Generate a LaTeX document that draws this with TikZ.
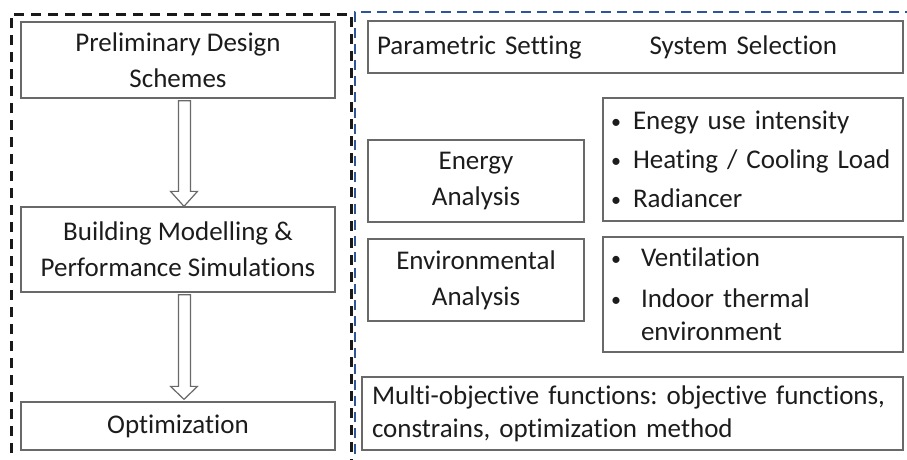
\documentclass[tikz,border=0pt]{standalone}
\usepackage{fontspec}
\setmainfont[Ligatures=NoCommon]{Carlito}
\usetikzlibrary{calc}
\definecolor{boxgray}{RGB}{105,105,105}
\definecolor{txt}{RGB}{28,28,28}
\definecolor{dashblue}{RGB}{47,85,151}
\definecolor{dashblack}{RGB}{25,25,25}
\tikzset{
  box/.style={draw=boxgray, line width=1.3pt, rectangle, inner sep=0pt, text=txt, align=center,
    font=\fontsize{27}{36}\selectfont},
  blackframe/.style={draw=dashblack, line width=3pt, dash pattern=on 10pt off 7pt},
  blueframe/.style={draw=dashblue, line width=2.4pt, dash pattern=on 10pt off 6pt},
  hollowarrow/.style={draw=boxgray, line width=1.2pt, fill=white, line join=miter},
}
\newcommand{\bul}[1]{\makebox[#1][l]{\hspace{8pt}\raisebox{1pt}{\fontsize{20}{20}\selectfont\textbullet}}}
\frenchspacing
\begin{document}
\begin{tikzpicture}[x=1pt,y=-1pt]
\useasboundingbox (0,0) rectangle (907,459);
% frames
\draw[blackframe] (11,470) -- (11,14) -- (351,14) -- (351,470);
\draw[blueframe] (355,470) -- (355,12) -- (920,12);
% left column
\node[box, minimum width=314pt, minimum height=76pt] (pds) at (178,60) {Preliminary Design\\Schemes};
\node[box, minimum width=314pt, minimum height=85pt] (bmps) at (178,249.5) {Building Modelling \&\\Performance Simulations};
\node[box, minimum width=314pt, minimum height=48pt] (opt) at (178,426) {Optimization};
% arrows
\draw[hollowarrow] ($(pds.south)+(0.5,2)$) -- ($(bmps.north)+(0.5,-15)$) -- ($(bmps.north)+(-7.5,-15)$) -- ($(bmps.north)+(6,0)$) -- ($(bmps.north)+(19.5,-15)$) -- ($(bmps.north)+(12.5,-15)$) -- ($(pds.south)+(12.5,2)$) -- cycle;
\draw[hollowarrow] ($(bmps.south)+(0.5,2)$) -- ($(opt.north)+(0.5,-15)$) -- ($(opt.north)+(-7.5,-15)$) -- ($(opt.north)+(6,-2)$) -- ($(opt.north)+(19.5,-15)$) -- ($(opt.north)+(12.5,-15)$) -- ($(bmps.south)+(12.5,2)$) -- cycle;
% right column
\node[box, minimum width=535pt, minimum height=52pt, text width=517pt, align=left] (par) at (635.5,47) {Parametric Setting\hspace{68pt}System Selection};
\node[box, minimum width=216pt, minimum height=82pt] (energy) at (476,181) {Energy\\Analysis};
\node[box, minimum width=216pt, minimum height=82pt] (env) at (476,280) {Environmental\\Analysis};
\node[box, minimum width=300pt, minimum height=123pt, text width=300pt, align=left,
  font=\fontsize{27}{39}\selectfont] (b1) at (753,159.5)
  {\bul{30pt}Enegy use intensity\\\bul{30pt}Heating / Cooling Load\\\bul{30pt}Radiancer};
\node[box, minimum width=300pt, minimum height=115pt, text width=300pt, align=left,
  font=\fontsize{27}{33}\selectfont] (b2) at (753,294.5)
  {\bul{38pt}Ventilation\\[8pt]\bul{38pt}Indoor thermal\\\hspace*{38pt}environment};
\node[box, minimum width=541pt, minimum height=73pt, text width=521pt, align=left,
  font=\fontsize{27}{33}\selectfont] (multi) at (632.5,413.5)
  {Multi-objective functions: objective functions,\\constrains, optimization method};
\end{tikzpicture}
\end{document}
